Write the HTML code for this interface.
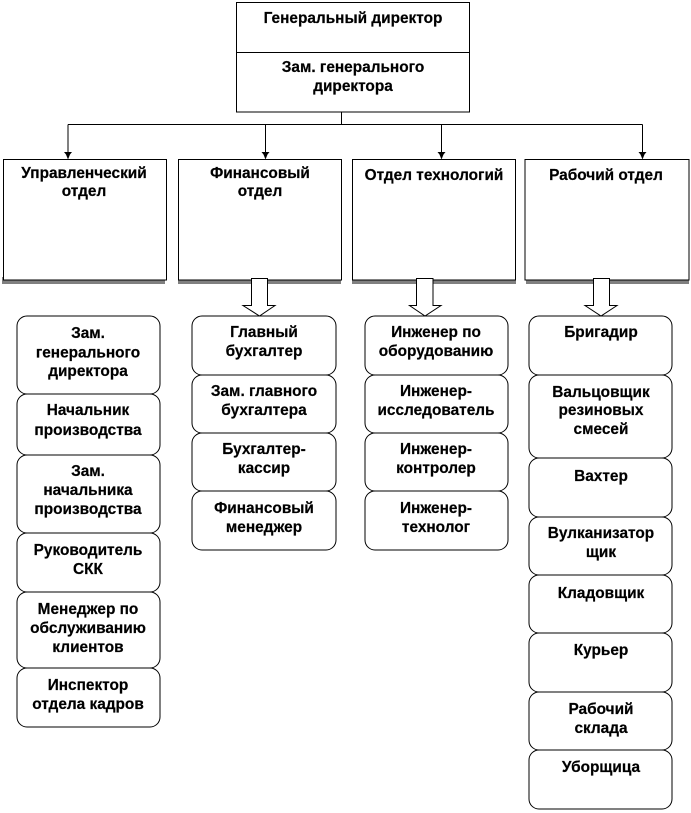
<!DOCTYPE html>
<html><head><meta charset="utf-8"><style>
html,body{margin:0;padding:0;background:#fff}
svg{display:block}
text{font-family:"Liberation Sans","DejaVu Sans",sans-serif;font-weight:bold;font-size:15.4px;fill:#000;stroke:#000;stroke-width:.2px;text-anchor:middle}
.b{fill:#fff;stroke:#000;stroke-width:1}
.r{fill:#fff;stroke:#000;stroke-width:1}
.l{fill:none;stroke:#000;stroke-width:1}
</style></head><body>
<svg width="691" height="813" viewBox="0 0 691 813" xmlns="http://www.w3.org/2000/svg">
<rect width="691" height="813" fill="#fff"/>
<!-- top box -->
<rect class="b" x="236.5" y="2.5" width="233" height="109.5"/>
<path class="l" d="M236.5 52.5H469.5"/>
<text x="353" y="23">Генеральный директор</text>
<text x="353" y="72">Зам. генерального</text>
<text x="353" y="91">директора</text>
<!-- connectors -->
<path class="l" d="M341.5 112V124.5M68 124.5H642.5M68 124.5V152M265.5 124.5V152M441.5 124.5V152M642.5 124.5V152"/>
<path d="M64 152h8l-2 2.500 -2 5 -2 -5zM261.500 152h8l-2 2.500 -2 5 -2 -5zM437.500 152h8l-2 2.500 -2 5 -2 -5zM638.500 152h8l-2 2.500 -2 5 -2 -5z" fill="#000"/>
<!-- shadows -->
<g fill="#808080">
<rect x="2" y="277" width="163" height="7"/>
<rect x="178" y="277" width="163" height="7"/>
<rect x="352" y="277" width="164" height="7"/>
<rect x="526" y="277" width="163" height="7"/>
</g>
<!-- dept boxes -->
<rect class="b" x="3.500" y="159.500" width="163" height="120.500"/>
<rect class="b" x="178.500" y="159.500" width="163" height="120.500"/>
<rect class="b" x="352.500" y="159.500" width="163" height="120.500"/>
<rect class="b" x="525" y="159.500" width="164" height="120.500"/>
<text x="84" y="178">Управленческий</text>
<text x="84" y="196">отдел</text>
<text x="260" y="178">Финансовый</text>
<text x="260" y="196">отдел</text>
<text x="434" y="180">Отдел технологий</text>
<text x="606" y="180">Рабочий отдел</text>
<!-- block arrows -->
<path class="b" d="M251.500 278.500H267.500V305.500H275L259.500 316L243 305.500H251.500Z"/>
<path class="b" d="M416.500 278.500H433V305.500H441L425 316L409.500 305.500H416.500Z"/>
<path class="b" d="M593.500 278.500H609.500V305.500H617L601 316L585 305.500H593.500Z"/>
<!-- left column -->
<rect class="r" x="17" y="316" width="143" height="78" rx="10"/>
<rect class="r" x="17" y="394" width="143" height="61" rx="10"/>
<rect class="r" x="17" y="455" width="143" height="78" rx="10"/>
<rect class="r" x="17" y="533" width="143" height="59" rx="10"/>
<rect class="r" x="17" y="592" width="143" height="76" rx="10"/>
<rect class="r" x="17" y="668" width="143" height="59" rx="10"/>
<text x="88" y="338">Зам.</text>
<text x="88" y="357.500">генерального</text>
<text x="88" y="376">директора</text>
<text x="88" y="415">Начальник</text>
<text x="88" y="435">производства</text>
<text x="88" y="476">Зам.</text>
<text x="88" y="495">начальника</text>
<text x="88" y="514">производства</text>
<text x="88" y="555">Руководитель</text>
<text x="88" y="574">СКК</text>
<text x="88" y="614">Менеджер по</text>
<text x="88" y="633">обслуживанию</text>
<text x="88" y="652">клиентов</text>
<text x="88" y="690">Инспектор</text>
<text x="88" y="709">отдела кадров</text>
<!-- finance column -->
<rect class="r" x="192" y="316" width="144" height="59" rx="10"/>
<rect class="r" x="192" y="375" width="144" height="58" rx="10"/>
<rect class="r" x="192" y="433" width="144" height="58" rx="10"/>
<rect class="r" x="192" y="491" width="144" height="59" rx="10"/>
<text x="264" y="337">Главный</text>
<text x="264" y="356">бухгалтер</text>
<text x="264" y="396">Зам. главного</text>
<text x="264" y="415">бухгалтера</text>
<text x="264" y="454">Бухгалтер-</text>
<text x="264" y="473">кассир</text>
<text x="264" y="513">Финансовый</text>
<text x="264" y="532">менеджер</text>
<!-- tech column -->
<rect class="r" x="365" y="316" width="143" height="59" rx="10"/>
<rect class="r" x="365" y="375" width="143" height="58" rx="10"/>
<rect class="r" x="365" y="433" width="143" height="58" rx="10"/>
<rect class="r" x="365" y="491" width="143" height="59" rx="10"/>
<text x="436" y="337">Инженер по</text>
<text x="436" y="356">оборудованию</text>
<text x="436" y="396">Инженер-</text>
<text x="436" y="415">исследователь</text>
<text x="436" y="454">Инженер-</text>
<text x="436" y="473">контролер</text>
<text x="436" y="513">Инженер-</text>
<text x="436" y="532">технолог</text>
<!-- worker column -->
<rect class="r" x="529" y="316" width="143" height="59" rx="10"/>
<rect class="r" x="529" y="375" width="143" height="83" rx="10"/>
<rect class="r" x="529" y="458" width="143" height="59" rx="10"/>
<rect class="r" x="529" y="517" width="143" height="58" rx="10"/>
<rect class="r" x="529" y="575" width="143" height="58" rx="10"/>
<rect class="r" x="529" y="633" width="143" height="59" rx="10"/>
<rect class="r" x="529" y="692" width="143" height="58" rx="10"/>
<rect class="r" x="529" y="750" width="143" height="59" rx="10"/>
<text x="601" y="337">Бригадир</text>
<text x="601" y="397">Вальцовщик</text>
<text x="601" y="415">резиновых</text>
<text x="601" y="434">смесей</text>
<text x="601" y="481">Вахтер</text>
<text x="601" y="538">Вулканизатор</text>
<text x="601" y="557">щик</text>
<text x="601" y="598">Кладовщик</text>
<text x="601" y="655">Курьер</text>
<text x="601" y="714">Рабочий</text>
<text x="601" y="733">склада</text>
<text x="601" y="772">Уборщица</text>
</svg>
</body></html>
